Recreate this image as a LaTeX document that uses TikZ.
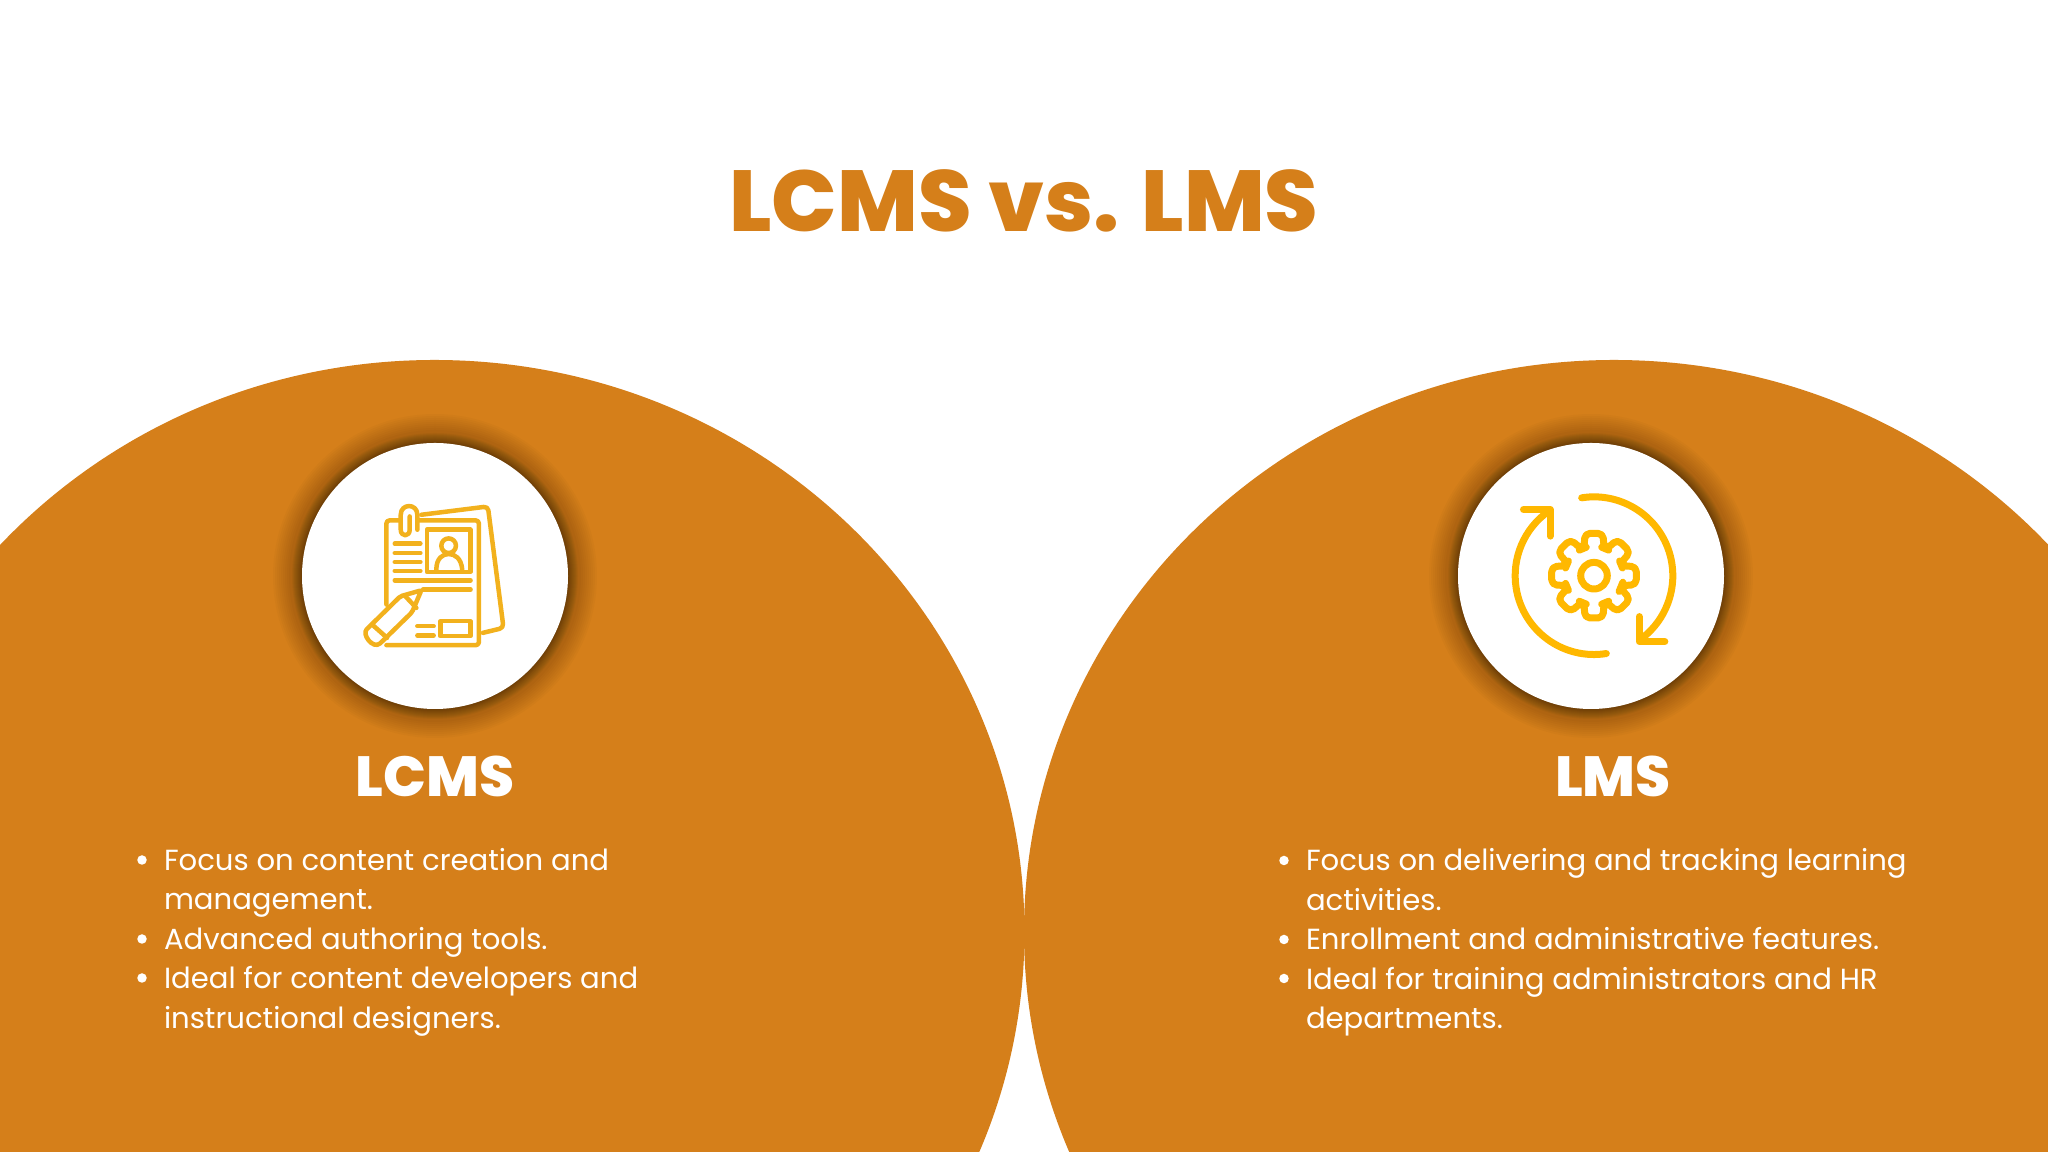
\documentclass[tikz,border=0pt]{standalone}
\usepackage{fontspec}
\setmainfont{Poppins}
\newfontfamily\heavyfont{Poppins ExtraBold}
\usepackage{tikz}

\definecolor{ochre}{RGB}{213,127,26}
\definecolor{amberL}{RGB}{242,177,29}
\definecolor{amberR}{RGB}{255,184,0}

\begin{document}
\begin{tikzpicture}
\tikzset{ >=latex, inner sep=0pt, outer sep=0pt,
  disc/.style={fill=white, circle, minimum size=2.66cm},
  headtxt/.style={text=white, font=\heavyfont\fontsize{16.1}{18}\selectfont, anchor=base},
  item/.style={text=white, font=\fontsize{8.28}{10}\selectfont, anchor=base west},
  dot/.style={fill=white, circle, minimum size=0.095cm},
  iconL/.style={amberL, line width=0.045cm, line cap=round, line join=round},
  iconR/.style={amberR, line width=0.07cm, line cap=round, line join=round},
}

\clip (0,0) rectangle (20.48,11.52);
\fill [white] (0,0) rectangle (20.48,11.52);

% titulo
\node [text=ochre, font=\heavyfont\fontsize{24.6}{26}\selectfont, anchor=base] (title) at (10.24,9.2) {LCMS vs. LMS};

% semicirculos
\fill [ochre] (4.345,2.2) ellipse (5.9 and 5.72);
\fill [ochre] (16.14,2.2) ellipse (5.9 and 5.72);

% sombras
\foreach \r in {1.34,1.35,...,1.44} {
  \fill [black, opacity=0.04] (4.35,5.76) circle (\r);
  \fill [black, opacity=0.04] (15.91,5.76) circle (\r);
}
\foreach \r in {1.46,1.48,...,1.62} {
  \fill [black, opacity=0.02] (4.35,5.76) circle (\r);
  \fill [black, opacity=0.02] (15.91,5.76) circle (\r);
}
\node [disc] (discL) at (4.35,5.76) {};
\node [disc] (discR) at (15.91,5.76) {};

% icone LCMS
\begin{scope}[shift={(2.8,7.32)}, x=0.003333cm, y=-0.003333cm]
\draw [iconL, rounded corners=0.04cm] (425,285) -- (625,260) -- (672,625) -- (610,640);
\draw [iconL, rounded corners=0.03cm] (360,302) -- (320,302) -- (320,555);
\draw [iconL, rounded corners=0.03cm] (415,302) -- (598,302) -- (598,677) -- (320,677);
\draw [iconL] (442,330) rectangle (572,457);
\draw [iconL] (507,378) circle (22);
\draw [iconL] (470,450) .. controls (470,415) and (490,403) .. (507,403) .. controls (525,403) and (545,415) .. (548,450);
\foreach \y in {372,400,427,454} {
  \draw [iconL] (345,\y) -- (422,\y);
}
\draw [iconL] (345,482) -- (573,482);
\draw [iconL] (430,510) -- (573,510);
\draw [iconL] (482,605) rectangle (572,650);
\draw [iconL] (413,620) -- (462,620);
\draw [iconL] (413,648) -- (462,648);
% clipe
\draw [iconL] (413,330) -- (413,285) .. controls (413,250) and (363,250) .. (363,285) -- (363,330) .. controls (363,352) and (390,352) .. (390,330) -- (390,290);
% lapis
\draw [iconL, rounded corners=0.02cm] (425,512) -- (362,530) -- (265,625) .. controls (245,645) and (280,690) .. (305,668) -- (397,578) -- cycle;
\draw [iconL] (277,615) -- (322,655);
\draw [iconL] (375,528) -- (410,565);
\end{scope}

% icone LMS
\begin{scope}[shift={(15.94,5.763)}, x=0.003333cm, y=0.003333cm]
\draw [iconR, rounded corners=0.05cm] (-22.5:88) \foreach \a in {0,45,...,315} {
  -- (\a-20:88) -- (\a-12:130) -- (\a+12:130) -- (\a+20:88)
} -- cycle;
\draw [iconR] (0,0) circle (40);
\draw [iconR] (99:237) arc (99:-51:237);
\draw [iconR] (136,-123) -- (136,-198) -- (213,-198);
\draw [iconR] (-81:237) arc (-81:-235:237);
\draw [iconR] (-212,199) -- (-132,199) -- (-132,119);
\end{scope}

% colunas
\node [headtxt] (headL) at (4.35,3.55) {LCMS};
\node [headtxt] (headR) at (16.13,3.55) {LMS};

\node [dot] (dotL1) at (1.42,2.92) {};
\node [item] (textL1) at (1.64,2.815) {Focus on content creation and};
\node [item] (textL2) at (1.64,2.421) {management.};
\node [dot] (dotL2) at (1.42,2.13) {};
\node [item] (textL3) at (1.64,2.027) {Advanced authoring tools.};
\node [dot] (dotL3) at (1.42,1.74) {};
\node [item] (textL4) at (1.64,1.633) {Ideal for content developers and};
\node [item] (textL5) at (1.64,1.239) {instructional designers.};

\node [dot] (dotR1) at (12.84,2.915) {};
\node [item] (textR1) at (13.06,2.81) {Focus on delivering and tracking learning};
\node [item] (textR2) at (13.06,2.416) {activities.};
\node [dot] (dotR2) at (12.84,2.125) {};
\node [item] (textR3) at (13.06,2.022) {Enrollment and administrative features.};
\node [dot] (dotR3) at (12.84,1.735) {};
\node [item] (textR4) at (13.06,1.628) {Ideal for training administrators and HR};
\node [item] (textR5) at (13.06,1.234) {departments.};

\end{tikzpicture}
\end{document}
